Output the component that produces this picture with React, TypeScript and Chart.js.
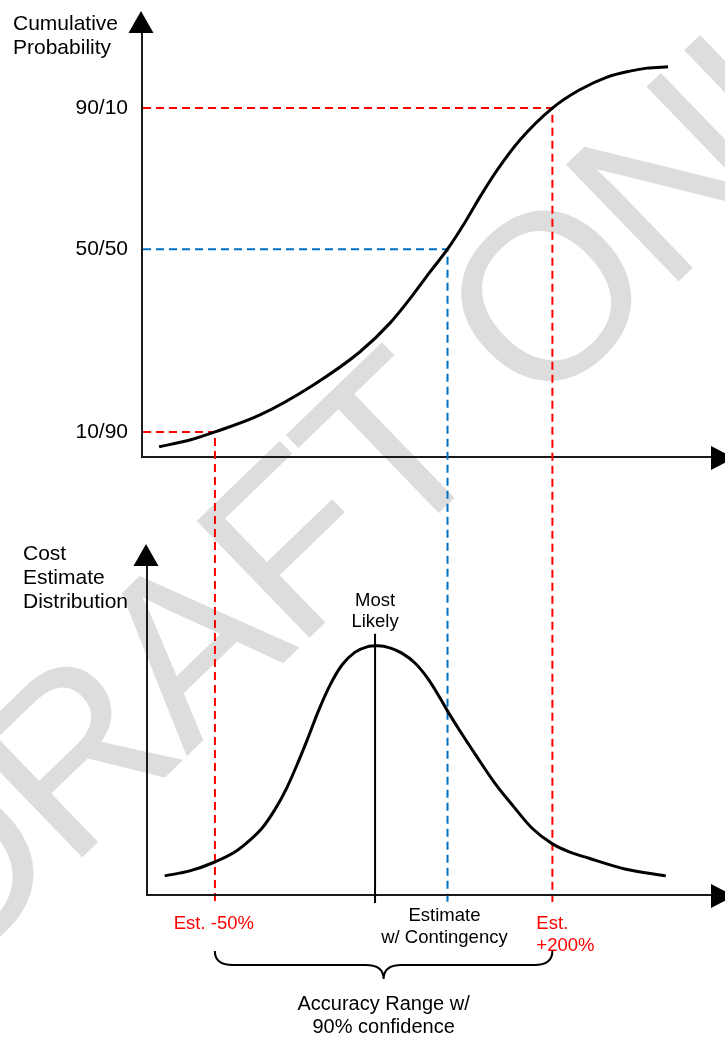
import { useEffect, useRef } from 'react';
import { Chart, registerables } from 'chart.js';

Chart.register(...registerables);

const FONT = "'Liberation Sans', Arial, Helvetica, sans-serif";
const AXIS = '#1a1a1a';
const RED = '#ff0000';
const BLUE = '#0070c0';

// Cost axis is shared by both panels (relative cost units, 0-100)
const cumCost = [3.0, 8.4, 12.8, 20.7, 30.0, 38.2, 43.5, 47.5, 50.5, 53.6, 56.7, 59.3, 62.3, 66.3, 72.0, 76.8, 81.6, 85.6, 88.6, 92.3];
const cumProb = [2.4, 4.0, 5.9, 9.9, 16.9, 24.7, 31.5, 38.1, 43.5, 48.9, 55.3, 61.2, 67.5, 74.6, 82.1, 86.4, 89.4, 90.8, 91.5, 91.8];

const distCost = [4.0, 8.4, 12.8, 16.3, 19.0, 21.1, 23.3, 25.4, 27.2, 29.0, 30.9, 33.0, 35.1, 37.4, 39.5, 41.4, 43.5, 45.6, 47.9, 50.2, 52.3, 53.6, 55.8, 58.8, 61.9, 65.1, 68.4, 72.0, 75.1, 78.3, 84.7, 91.9];
const distDensity = [5.8, 7.3, 10.0, 13.0, 16.7, 20.3, 25.8, 32.4, 39.4, 47.0, 55.5, 63.6, 69.7, 73.6, 75.2, 75.5, 74.9, 73.3, 70.3, 65.5, 59.7, 55.8, 49.7, 41.8, 33.9, 27.0, 20.3, 15.5, 13.0, 11.2, 7.9, 5.8];

const probTickValues = [5.9, 48.9, 82.1];
const probTickLabels = ['10/90', '50/50', '90/10'];

const markerCosts = [12.8, 53.6, 72.0];
const markerProbs = [5.9, 48.9, 82.1];
const markerColors = [RED, BLUE, RED];

const mostLikelyCost = 40.9;
const bottomAxisCost = 0.9;

const topTitle = ['Cumulative', 'Probability'];
const bottomTitle = ['Cost', 'Estimate', 'Distribution'];
const mostLikelyLabel = ['Most', 'Likely'];
const lowLabel = ['Est. -50%'];
const midLabel = ['Estimate', 'w/ Contingency'];
const highLabel = ['Est.', '+200%'];
const rangeLabel = ['Accuracy Range w/', '90% confidence'];
const watermark = 'DRAFT ONLY';

function arrowUp(ctx: CanvasRenderingContext2D, x: number, yBase: number) {
  ctx.beginPath();
  ctx.moveTo(x, yBase - 21);
  ctx.lineTo(x - 12.5, yBase + 1);
  ctx.lineTo(x + 12.5, yBase + 1);
  ctx.closePath();
  ctx.fill();
}
function arrowRight(ctx: CanvasRenderingContext2D, xBase: number, y: number) {
  ctx.beginPath();
  ctx.moveTo(xBase + 22, y);
  ctx.lineTo(xBase - 1, y - 12);
  ctx.lineTo(xBase - 1, y + 12);
  ctx.closePath();
  ctx.fill();
}
function lines(ctx: CanvasRenderingContext2D, arr: string[], x: number, y: number, lh: number) {
  arr.forEach((t, i) => ctx.fillText(t, x, y + i * lh));
}

export default function App() {
  const topRef = useRef<HTMLCanvasElement>(null);
  const botRef = useRef<HTMLCanvasElement>(null);

  useEffect(() => {
    const bottomPlugin = {
      id: 'bottomDecor',
      beforeDatasetsDraw(chart: any) {
        const { ctx, chartArea, scales } = chart;
        const x = scales.x.getPixelForValue(mostLikelyCost);
        const peak = scales.y.getPixelForValue(Math.max(...distDensity));
        ctx.save();
        ctx.strokeStyle = '#000';
        ctx.lineWidth = 2;
        ctx.beginPath();
        ctx.moveTo(x, peak - 12);
        ctx.lineTo(x, chartArea.bottom + 8);
        ctx.stroke();
        ctx.restore();
      },
      afterDraw(chart: any) {
        const { ctx, chartArea, scales } = chart;
        const ax = chartArea.bottom;
        ctx.save();
        ctx.fillStyle = '#000';
        arrowUp(ctx, chartArea.left - 1, chartArea.top);
        arrowRight(ctx, chartArea.right, ax + 1);

        ctx.textBaseline = 'alphabetic';
        ctx.font = `21px ${FONT}`;
        ctx.textAlign = 'left';
        lines(ctx, bottomTitle, chartArea.left - 124, chartArea.top - 5, 24);

        const mx = scales.x.getPixelForValue(mostLikelyCost);
        const peak = scales.y.getPixelForValue(Math.max(...distDensity));
        ctx.font = `18.5px ${FONT}`;
        ctx.textAlign = 'center';
        lines(ctx, mostLikelyLabel, mx, peak - 40, 21);

        const lx = scales.x.getPixelForValue(markerCosts[0]);
        const cx = scales.x.getPixelForValue(markerCosts[1]);
        const hx = scales.x.getPixelForValue(markerCosts[2]);

        ctx.fillStyle = RED;
        ctx.textAlign = 'center';
        lines(ctx, lowLabel, lx - 1, ax + 34, 22);
        ctx.textAlign = 'left';
        lines(ctx, highLabel, hx - 16, ax + 34, 22);
        ctx.fillStyle = '#000';
        ctx.textAlign = 'center';
        lines(ctx, midLabel, cx - 3, ax + 26, 22);

        // brace
        const top = ax + 56;
        const mid = ax + 70;
        const tip = ax + 84;
        const bm = (lx + hx) / 2;
        const r = 18;
        ctx.strokeStyle = '#000';
        ctx.lineWidth = 2;
        ctx.beginPath();
        ctx.moveTo(lx, top);
        ctx.quadraticCurveTo(lx, mid, lx + r, mid);
        ctx.lineTo(bm - r, mid);
        ctx.quadraticCurveTo(bm, mid, bm, tip);
        ctx.quadraticCurveTo(bm, mid, bm + r, mid);
        ctx.lineTo(hx - r, mid);
        ctx.quadraticCurveTo(hx, mid, hx, top);
        ctx.stroke();

        ctx.font = `20px ${FONT}`;
        lines(ctx, rangeLabel, bm, ax + 115, 23);
        ctx.restore();
      },
    };

    const bottom = new Chart(botRef.current!, {
      type: 'line',
      data: {
        datasets: [
          {
            data: distCost.map((x, i) => ({ x, y: distDensity[i] })),
            borderColor: '#000',
            borderWidth: 3,
            pointRadius: 0,
            fill: false,
            cubicInterpolationMode: 'monotone',
          },
        ],
      },
      options: {
        responsive: false,
        animation: false,
        devicePixelRatio: 1,
        events: [],
        layout: { padding: { left: 0, top: 565, right: 13, bottom: 146 } },
        plugins: { legend: { display: false }, tooltip: { enabled: false } },
        scales: {
          x: {
            type: 'linear',
            min: bottomAxisCost,
            max: 100,
            grid: { display: false, drawTicks: false },
            ticks: { display: false },
            border: { display: true, color: AXIS, width: 2 },
            afterFit: (s: any) => { s.height = 0; },
          },
          y: {
            type: 'linear',
            min: 0,
            max: 100,
            grid: { display: false, drawTicks: false },
            ticks: { display: false },
            border: { display: true, color: AXIS, width: 2 },
            afterFit: (s: any) => { s.width = 147; },
          },
        },
      } as any,
      plugins: [bottomPlugin],
    });

    const topPlugin = {
      id: 'topDecor',
      beforeDraw(chart: any) {
        const ctx = chart.ctx;
        ctx.save();
        ctx.fillStyle = '#dddddd';
        ctx.font = `236px ${FONT}`;
        (ctx as any).letterSpacing = '-6px';
        ctx.textAlign = 'left';
        ctx.textBaseline = 'alphabetic';
        ctx.translate(-50, 985);
        ctx.rotate((-44 * Math.PI) / 180);
        ctx.fillText(watermark, 0, 0);
        ctx.restore();
      },
      beforeDatasetsDraw(chart: any) {
        const { ctx, chartArea, scales } = chart;
        const yEnd = bottom.chartArea.bottom + 7;
        markerCosts.forEach((c, i) => {
          const px = scales.x.getPixelForValue(c);
          const py = scales.y.getPixelForValue(markerProbs[i]);
          ctx.save();
          ctx.strokeStyle = markerColors[i];
          ctx.lineWidth = 2;
          ctx.setLineDash([8, 5]);
          ctx.beginPath();
          ctx.moveTo(chartArea.left + 1, py);
          ctx.lineTo(px, py);
          ctx.lineTo(px, yEnd);
          ctx.stroke();
          ctx.restore();
        });
      },
      afterDraw(chart: any) {
        const { ctx, chartArea } = chart;
        ctx.save();
        ctx.fillStyle = '#000';
        arrowUp(ctx, chartArea.left - 1, chartArea.top);
        arrowRight(ctx, chartArea.right, chartArea.bottom + 1);
        ctx.font = `21px ${FONT}`;
        ctx.textAlign = 'left';
        ctx.textBaseline = 'alphabetic';
        lines(ctx, topTitle, chartArea.left - 129, chartArea.top - 2, 24);
        ctx.restore();
      },
    };

    const top = new Chart(topRef.current!, {
      type: 'line',
      data: {
        datasets: [
          {
            data: cumCost.map((x, i) => ({ x, y: cumProb[i] })),
            borderColor: '#000',
            borderWidth: 3,
            pointRadius: 0,
            fill: false,
            cubicInterpolationMode: 'monotone',
          },
        ],
      },
      options: {
        responsive: false,
        animation: false,
        devicePixelRatio: 1,
        events: [],
        layout: { padding: { left: 0, top: 32, right: 13, bottom: 584 } },
        plugins: { legend: { display: false }, tooltip: { enabled: false } },
        scales: {
          x: {
            type: 'linear',
            min: 0,
            max: 100,
            grid: { display: false, drawTicks: false },
            ticks: { display: false },
            border: { display: true, color: AXIS, width: 2 },
            afterFit: (s: any) => { s.height = 0; },
          },
          y: {
            type: 'linear',
            min: 0,
            max: 100,
            grid: { display: false, drawTicks: false },
            border: { display: true, color: AXIS, width: 2 },
            afterBuildTicks: (s: any) => { s.ticks = probTickValues.map((v) => ({ value: v })); },
            ticks: {
              autoSkip: false,
              padding: 14,
              color: '#000',
              font: { family: FONT, size: 21 },
              callback: (_v: any, i: number) => probTickLabels[i],
            },
            afterFit: (s: any) => { s.width = 142; },
          },
        },
      } as any,
      plugins: [topPlugin],
    });

    return () => {
      top.destroy();
      bottom.destroy();
    };
  }, []);

  const style: any = { position: 'fixed', left: 0, top: 0, width: 725, height: 1041 };
  return (
    <div>
      <canvas ref={topRef} width={725} height={1041} style={style} />
      <canvas ref={botRef} width={725} height={1041} style={style} />
    </div>
  );
}
